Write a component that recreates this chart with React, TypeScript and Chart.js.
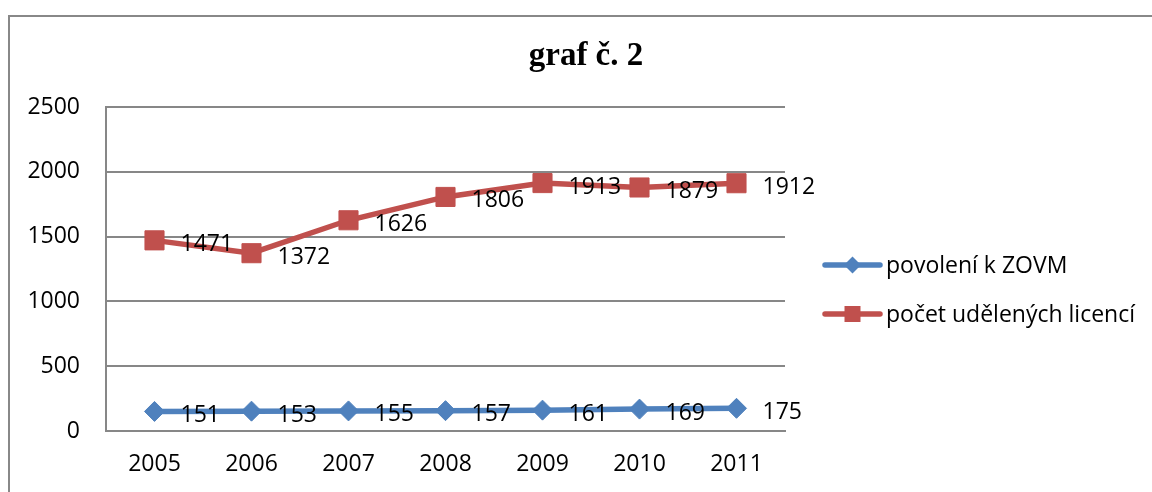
import React, { useEffect, useRef } from 'react';
import { Chart, registerables } from 'chart.js';

Chart.register(...registerables);

const years = ['2005', '2006', '2007', '2008', '2009', '2010', '2011'];
const povoleni = [151, 153, 155, 157, 161, 169, 175];
const licence = [1471, 1372, 1626, 1806, 1913, 1879, 1912];
const seriesNames = ['povolení k ZOVM', 'počet udělených licencí'];
const seriesColors = ['#4F81BD', '#C0504D'];
const markerStyles = ['rectRot', 'rect'];
const titleText = 'graf č. 2';

const FONT = '"Open Sans", "Liberation Sans", sans-serif';
const FONT_SIZE = 23;
const GRID = '#878787';

const framePlugin = {
  id: 'frame',
  beforeDraw(chart: any) {
    const ctx = chart.ctx;
    ctx.save();
    ctx.fillStyle = '#ffffff';
    ctx.fillRect(0, 0, chart.width, chart.height);
    ctx.strokeStyle = '#888888';
    ctx.lineWidth = 2;
    ctx.beginPath();
    ctx.moveTo(9, chart.height + 2);
    ctx.lineTo(9, 16);
    ctx.lineTo(chart.width + 2, 16);
    ctx.stroke();
    ctx.restore();
  },
};

const valueLabelPlugin = {
  id: 'valueLabels',
  afterDatasetsDraw(chart: any) {
    const ctx = chart.ctx;
    ctx.save();
    ctx.font = `${FONT_SIZE}px ${FONT}`;
    ctx.fillStyle = '#000000';
    ctx.textAlign = 'left';
    ctx.textBaseline = 'middle';
    chart.data.datasets.forEach((ds: any, i: number) => {
      const meta = chart.getDatasetMeta(i);
      meta.data.forEach((pt: any, j: number) => {
        ctx.fillText(String(ds.data[j]), pt.x + 26, pt.y + 4);
      });
    });
    ctx.restore();
  },
};

const customLegendPlugin = {
  id: 'customLegend',
  afterDraw(chart: any) {
    const ctx = chart.ctx;
    ctx.save();
    chart.data.datasets.forEach((ds: any, i: number) => {
      const y = 265 + i * 49;
      const x0 = 825;
      const x1 = 880;
      const cx = (x0 + x1) / 2;
      ctx.strokeStyle = ds.borderColor;
      ctx.lineWidth = 5.5;
      ctx.lineCap = 'round';
      ctx.beginPath();
      ctx.moveTo(x0, y);
      ctx.lineTo(x1, y);
      ctx.stroke();
      ctx.fillStyle = ds.borderColor;
      ctx.beginPath();
      if (ds.pointStyle === 'rectRot') {
        const r = 8.5;
        ctx.moveTo(cx, y - r);
        ctx.lineTo(cx + r, y);
        ctx.lineTo(cx, y + r);
        ctx.lineTo(cx - r, y);
        ctx.closePath();
      } else {
        ctx.rect(cx - 8, y - 8, 16, 16);
      }
      ctx.fill();
      ctx.font = `${FONT_SIZE}px ${FONT}`;
      ctx.fillStyle = '#000000';
      ctx.textAlign = 'left';
      ctx.textBaseline = 'middle';
      ctx.fillText(ds.label, 886, y + 1);
    });
    ctx.restore();
  },
};

export default function App() {
  const canvasRef = useRef<HTMLCanvasElement | null>(null);

  useEffect(() => {
    if (!canvasRef.current) return;
    const chart = new Chart(canvasRef.current, {
      type: 'line',
      data: {
        labels: years,
        datasets: [
          {
            label: seriesNames[0],
            data: povoleni,
            borderColor: seriesColors[0],
            backgroundColor: seriesColors[0],
            pointStyle: markerStyles[0] as any,
            pointRadius: 10,
            pointBorderWidth: 1,
            borderWidth: 5.5,
            tension: 0,
          },
          {
            label: seriesNames[1],
            data: licence,
            borderColor: seriesColors[1],
            backgroundColor: seriesColors[1],
            pointStyle: markerStyles[1] as any,
            pointRadius: 13.5,
            pointBorderWidth: 1,
            borderWidth: 5.5,
            tension: 0,
          },
        ],
      },
      options: {
        responsive: false,
        animation: false,
        devicePixelRatio: 1,
        layout: { padding: { left: 20, right: 0, top: 0, bottom: 0 } },
        plugins: {
          legend: { display: false },
          tooltip: { enabled: false },
          title: {
            display: true,
            text: titleText,
            color: '#000000',
            font: { family: '"Liberation Serif", "Times New Roman", serif', size: 33, weight: 'bold' },
            lineHeight: 1.2,
            padding: { top: 37, bottom: 30.4 },
          },
        },
        scales: {
          x: {
            type: 'category',
            offset: true,
            grid: { display: false, drawTicks: false },
            border: { display: true, color: GRID, width: 2 },
            ticks: {
              color: '#000000',
              font: { family: FONT, size: FONT_SIZE },
              padding: 20,
              maxRotation: 0,
            },
            afterFit(s: any) {
              s.height = 61;
            },
          },
          y: {
            type: 'linear',
            min: 0,
            max: 2500,
            ticks: {
              stepSize: 500,
              color: '#000000',
              font: { family: FONT, size: FONT_SIZE },
              padding: 26,
              callback: (v: any) => String(v),
            },
            grid: { color: GRID, lineWidth: 2, drawTicks: false },
            border: { display: true, color: GRID, width: 2 },
            afterFit(s: any) {
              s.width = 86;
            },
          },
          pad: {
            type: 'linear',
            position: 'right',
            display: true,
            grid: { display: false, drawTicks: false },
            border: { display: false },
            ticks: { display: false },
            afterFit(s: any) {
              s.width = 367;
            },
          },
        },
      },
      plugins: [framePlugin, valueLabelPlugin, customLegendPlugin],
    } as any);
    return () => chart.destroy();
  }, []);

  return (
    <canvas
      ref={canvasRef}
      width={1152}
      height={492}
      style={{ position: 'fixed', left: 0, top: 0, width: '1152px', height: '492px' }}
    />
  );
}
